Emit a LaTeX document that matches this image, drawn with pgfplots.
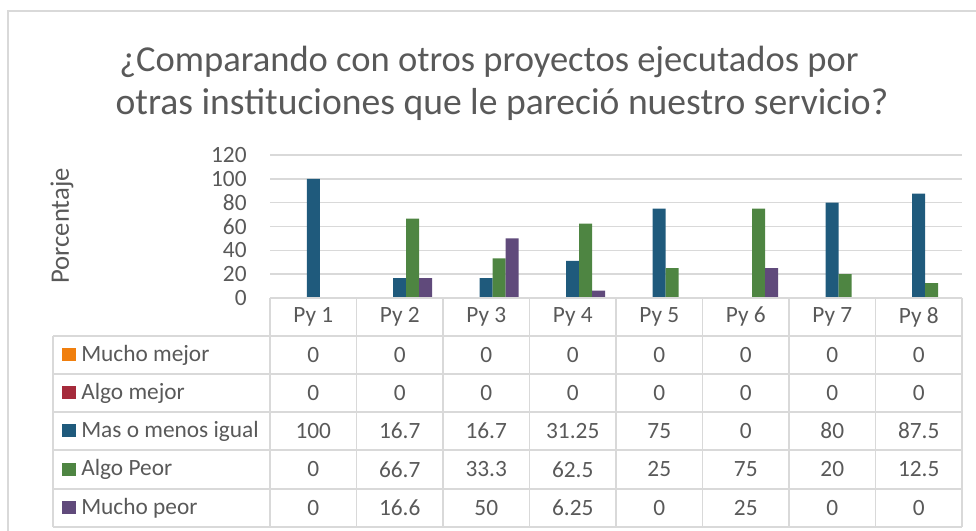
\documentclass[border=0pt]{standalone}
\usepackage{pgfplots}
\pgfplotsset{compat=1.18}
\usepackage{fontspec}
\setmainfont{Carlito}
\definecolor{txt}{HTML}{595959}
\definecolor{gridc}{HTML}{D9D9D9}
\definecolor{cA}{HTML}{F07F0E}
\definecolor{cB}{HTML}{A52A3B}
\definecolor{cC}{HTML}{1F5A7C}
\definecolor{cD}{HTML}{4E8542}
\definecolor{cE}{HTML}{604A7B}
\begin{document}
\begin{tikzpicture}
\begin{axis}[
  at={(202.5pt,174.75pt)}, anchor=south west,
  scale only axis, width=519pt, height=107.25pt,
  xmin=-0.5, xmax=7.5, ymin=0, ymax=120,
  ytick={0,20,...,120}, xtick=\empty,
  ymajorgrids, grid style={gridc, line width=1.1pt},
  axis line style={draw=none},
  ybar=0pt, bar width=9.75pt,
  major tick length=0pt,
  /pgf/number format/assume math mode=true,
  yticklabel style={font=\fontsize{17.5pt}{20pt}\selectfont, text=txt, anchor=east, xshift=-14pt},
  every axis plot/.append style={draw=none},
  clip=false,
]
\addplot[fill=cA] coordinates {(0,0) (1,0) (2,0) (3,0) (4,0) (5,0) (6,0) (7,0)};
\addplot[fill=cB] coordinates {(0,0) (1,0) (2,0) (3,0) (4,0) (5,0) (6,0) (7,0)};
\addplot[fill=cC] coordinates {(0,100) (1,16.7) (2,16.7) (3,31.25) (4,75) (5,0) (6,80) (7,87.5)};
\addplot[fill=cD] coordinates {(0,0) (1,66.7) (2,33.3) (3,62.5) (4,25) (5,75) (6,20) (7,12.5)};
\addplot[fill=cE] coordinates {(0,0) (1,16.6) (2,50) (3,6.25) (4,0) (5,25) (6,0) (7,0)};
\end{axis}
\begin{scope}[x=0.75pt, y=-0.75pt, shift={(0pt,398.25pt)}]
\path[use as bounding box] (0,0) rectangle (976,531);
\draw[gridc, line width=1pt] (8,531) -- (8,11) -- (976,11);
\node[text=txt, font=\fontsize{27.4pt}{32pt}\selectfont, anchor=base] at (489,72)
  {¿Comparando con otros proyectos ejecutados por};
\node[text=txt, font=\fontsize{28.2pt}{32pt}\selectfont, anchor=base] at (502,115)
  {otras instituciones que le pareció nuestro servicio?};
\node[text=txt, rotate=90, font=\fontsize{20pt}{24pt}\selectfont] at (62,226) {Porcentaje};
% table grid
\draw[gridc, line width=1.1pt] (270,298) -- (962,298);
\foreach \yy in {336,374,412,450,489,527} \draw[gridc, line width=1.1pt] (53,\yy) -- (962,\yy);
\draw[gridc, line width=1.1pt] (53,336) -- (53,527);
\foreach \k in {0,...,8} \draw[gridc, line width=1.1pt] ({270+86.5*\k},298) -- ({270+86.5*\k},527);
\begin{scope}[every node/.style={text=txt, font=\fontsize{17.5pt}{20pt}\selectfont}]
\foreach \k in {1,...,8} \node at ({270+86.5*(\k-0.5)},317) {Py \k};
% legend column
\foreach \c/\l/\yy in {cA/Mucho mejor/355, cB/Algo mejor/393, cC/Mas o menos igual/431, cD/Algo Peor/469.5, cE/Mucho peor/508} {
  \fill[\c] (62,\yy-6.5) rectangle (76,\yy+6.5);
  \node[anchor=west, inner sep=0pt] at (81,\yy) {\l};
}
% values
\foreach \yy/\vals in {355/{0,0,0,0,0,0,0,0}, 393/{0,0,0,0,0,0,0,0}, 431/{100,16.7,16.7,31.25,75,0,80,87.5}, 469.5/{0,66.7,33.3,62.5,25,75,20,12.5}, 508/{0,16.6,50,6.25,0,25,0,0}} {
  \foreach \v [count=\k] in \vals {
    \node at ({270+86.5*(\k-0.5)},\yy) {\v};
  }
}
\end{scope}
\end{scope}
\end{tikzpicture}
\end{document}
